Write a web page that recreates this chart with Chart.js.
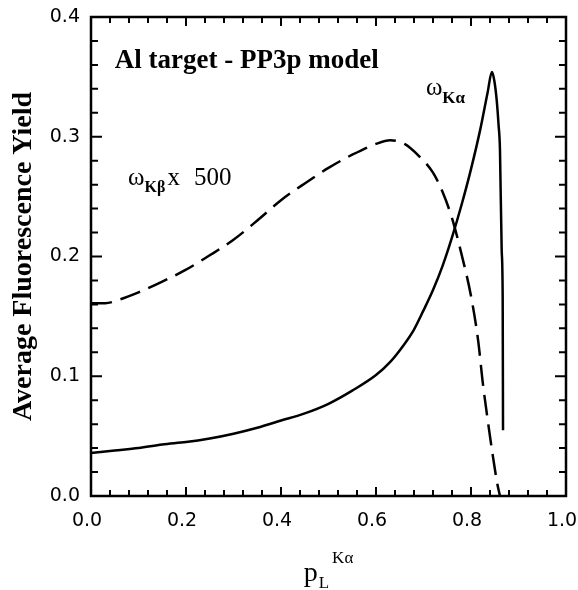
<!DOCTYPE html>
<html>
<head>
<meta charset="utf-8">
<script src="https://cdn.jsdelivr.net/npm/chart.js@4.4.1/dist/chart.umd.min.js"></script>
<style>
  html, body { margin: 0; padding: 0; background: #fff; }
  #wrap { width: 578px; height: 590px; position: relative; }
</style>
</head>
<body>
<div id="wrap"><canvas id="chartYield"></canvas></div>
<script>
// omega_Ka vs p_L^Ka (solid curve)
const kaX = [0.00, 0.05, 0.10, 0.15, 0.20, 0.25, 0.30, 0.35, 0.40, 0.45, 0.50, 0.55, 0.60, 0.63, 0.66, 0.68, 0.70, 0.72, 0.74, 0.76, 0.78, 0.80, 0.82, 0.835, 0.844, 0.849, 0.854, 0.858, 0.861, 0.8646, 0.8667, 0.8674];
const kaY = [0.036, 0.038, 0.040, 0.043, 0.045, 0.048, 0.052, 0.057, 0.063, 0.069, 0.077, 0.088, 0.101, 0.112, 0.127, 0.139, 0.155, 0.172, 0.192, 0.216, 0.243, 0.273, 0.307, 0.337, 0.354, 0.347, 0.331, 0.310, 0.289, 0.205, 0.166, 0.055];

// omega_Kb x 500 (dashed curve)
const kbX = [0.00, 0.03, 0.06, 0.10, 0.15, 0.20, 0.25, 0.30, 0.35, 0.40, 0.45, 0.50, 0.55, 0.60, 0.63, 0.66, 0.69, 0.72, 0.74, 0.76, 0.78, 0.80, 0.815, 0.825, 0.836, 0.845, 0.855, 0.861];
const kbY = [0.161, 0.161, 0.164, 0.170, 0.179, 0.189, 0.201, 0.214, 0.230, 0.247, 0.261, 0.274, 0.285, 0.294, 0.297, 0.294, 0.284, 0.270, 0.254, 0.232, 0.202, 0.167, 0.130, 0.094, 0.061, 0.036, 0.011, 0.000];

const xTicks = [0.0, 0.2, 0.4, 0.6, 0.8, 1.0];
const yTicks = [0.0, 0.1, 0.2, 0.3, 0.4];

const serif = '"Liberation Serif", "Times New Roman", serif';
const tickFont = { family: '"DejaVu Sans", sans-serif', size: 19 };

// text placed in data coordinates, each label split into parts (sub/superscripts)
const notes = [
  { x: 0.05, y: 0.357, parts: [{ t: "Al target - PP3p model", font: "bold 27px " + serif }] },
  { x: 0.078, y: 0.26, parts: [
    { t: "\u03c9", font: "25px " + serif },
    { t: "K\u03b2", font: "bold 16px " + serif, dy: 7 },
    { t: "x", font: "25px " + serif, dx: 2 },
    { t: "500", font: "25px " + serif, dx: 14 },
  ] },
  { x: 0.705, y: 0.335, parts: [
    { t: "\u03c9", font: "25px " + serif },
    { t: "K\u03b1", font: "bold 17px " + serif, dy: 8 },
  ] },
];

function drawParts(ctx, x, y, parts) {
  let cx = x;
  parts.forEach((p) => {
    ctx.font = p.font;
    cx += p.dx || 0;
    ctx.fillText(p.t, cx, y + (p.dy || 0));
    cx += ctx.measureText(p.t).width;
  });
}

function noPad(s) {
  s.paddingLeft = s.paddingRight = s.paddingTop = s.paddingBottom = 0;
}

const framePlugin = {
  id: "frame",
  afterDatasetsDraw(chart) {
    const { ctx, chartArea: a, scales } = chart;
    ctx.save();
    ctx.strokeStyle = "#000";
    ctx.lineWidth = 2.5;
    ctx.strokeRect(a.left, a.top, a.right - a.left, a.bottom - a.top);
    ctx.lineWidth = 2;
    ctx.beginPath();
    // inward ticks on all four sides, 5 subdivisions between labelled ticks
    for (let i = 0; i < xTicks.length; i++) {
      for (let k = 0; k < 5; k++) {
        if (i === xTicks.length - 1 && k > 0) break;
        const v = xTicks[i] + (k * (xTicks[1] - xTicks[0])) / 5;
        const px = scales.x.getPixelForValue(v);
        const len = k === 0 ? 9 : 6;
        ctx.moveTo(px, a.bottom); ctx.lineTo(px, a.bottom - len);
        ctx.moveTo(px, a.top); ctx.lineTo(px, a.top + len);
      }
    }
    for (let i = 0; i < yTicks.length; i++) {
      for (let k = 0; k < 5; k++) {
        if (i === yTicks.length - 1 && k > 0) break;
        const v = yTicks[i] + (k * (yTicks[1] - yTicks[0])) / 5;
        const py = scales.y.getPixelForValue(v);
        const len = k === 0 ? 11 : 7;
        ctx.moveTo(a.left, py); ctx.lineTo(a.left + len, py);
        ctx.moveTo(a.right, py); ctx.lineTo(a.right - len, py);
      }
    }
    ctx.stroke();

    ctx.fillStyle = "#000";
    ctx.textBaseline = "alphabetic";
    ctx.textAlign = "left";
    notes.forEach((n) => {
      drawParts(ctx, scales.x.getPixelForValue(n.x), scales.y.getPixelForValue(n.y), n.parts);
    });

    // x axis title: p_L^{K alpha}
    const cx = (a.left + a.right) / 2;
    ctx.font = "28px " + serif;
    const wp = ctx.measureText("p").width;
    ctx.font = "17px " + serif;
    const wl = ctx.measureText("L").width;
    const wk = ctx.measureText("K\u03b1").width;
    const x0 = cx - (wp + wl + wk + 4) / 2;
    ctx.font = "28px " + serif;
    ctx.fillText("p", x0, a.bottom + 85);
    ctx.font = "17px " + serif;
    ctx.fillText("L", x0 + wp + 1, a.bottom + 92);
    ctx.fillText("K\u03b1", x0 + wp + wl + 4, a.bottom + 67);
    ctx.restore();
  },
};

new Chart(document.getElementById("chartYield"), {
  type: "line",
  data: {
    datasets: [
      {
        label: "\u03c9K\u03b1",
        data: kaX.map((x, i) => ({ x, y: kaY[i] })),
        borderColor: "#000",
        borderWidth: 2.5,
        pointRadius: 0,
        cubicInterpolationMode: "monotone",
      },
      {
        label: "\u03c9K\u03b2 x 500",
        data: kbX.map((x, i) => ({ x, y: kbY[i] })),
        borderColor: "#000",
        borderWidth: 2.5,
        borderDash: [21, 9],
        pointRadius: 0,
        cubicInterpolationMode: "monotone",
      },
    ],
  },
  options: {
    responsive: true,
    maintainAspectRatio: false,
    animation: false,
    layout: { padding: { top: 17, right: 12, left: 0, bottom: 0 } },
    plugins: { legend: { display: false }, tooltip: { enabled: false } },
    scales: {
      x: {
        type: "linear",
        min: 0,
        max: 1,
        afterBuildTicks: (s) => { s.ticks = xTicks.map((v) => ({ value: v })); },
        afterFit: (s) => { s.height = 94; noPad(s); },
        ticks: { font: tickFont, color: "#000", padding: 14, labelOffset: -4, maxRotation: 0, callback: (v) => v.toFixed(1) },
        grid: { display: false, drawTicks: false },
        border: { display: false },
      },
      y: {
        min: 0,
        max: 0.4,
        afterBuildTicks: (s) => { s.ticks = yTicks.map((v) => ({ value: v })); },
        afterFit: (s) => { s.width = 91; noPad(s); },
        ticks: { font: tickFont, color: "#000", padding: 11, callback: (v) => v.toFixed(1) },
        grid: { display: false, drawTicks: false },
        border: { display: false },
        title: {
          display: true,
          text: "Average Fluorescence Yield",
          color: "#000",
          font: { family: serif, size: 28, weight: "bold" },
          padding: { top: 7, bottom: 0 },
        },
      },
    },
  },
  plugins: [framePlugin],
});
</script>
</body>
</html>
